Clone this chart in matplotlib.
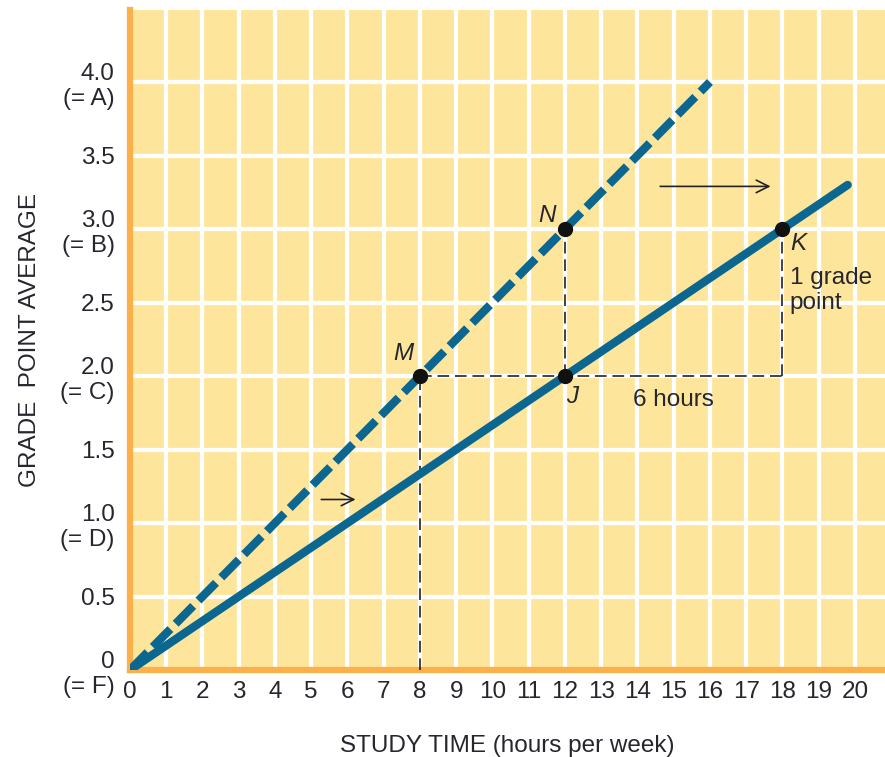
import matplotlib.pyplot as plt

plt.rcParams['font.family'] = ['Liberation Sans', 'DejaVu Sans']

# study time vs grade point average, two students
hours_slow = [0, 19.8]
gpa_slow = [0, 3.3]
hours_fast = [0, 16]
gpa_fast = [0, 4.0]

# labelled points
point_names = ["M", "N", "J", "K"]
point_x = [8, 12, 12, 18]
point_y = [2.0, 3.0, 2.0, 3.0]

x_ticks = list(range(0, 21))
y_ticks = [0, 0.5, 1.0, 1.5, 2.0, 2.5, 3.0, 3.5, 4.0]
y_tick_labels = ["0\n(= F)", "0.5", "1.0\n(= D)", "1.5", "2.0\n(= C)", "2.5",
                 "3.0\n(= B)", "3.5", "4.0\n(= A)"]

BG = "#fde69c"
ORANGE = "#fbb04c"
BLUE = "#0b6690"
TEXT = "#26262e"
FS = 17.5

fig = plt.figure(figsize=(8.85, 7.57), dpi=100)
ax = fig.add_axes([130 / 885, 87 / 757, 755 / 885, 660 / 757])
ax.set_facecolor(BG)
ax.set_xlim(0, 20.83)
ax.set_ylim(0, 4.49)

# white grid
for x in x_ticks[1:]:
    ax.axvline(x, color="white", lw=3, zorder=1)
for y in y_ticks[1:]:
    ax.axhline(y, color="white", lw=3, zorder=1)

for side in ["top", "right"]:
    ax.spines[side].set_visible(False)
for side in ["left", "bottom"]:
    ax.spines[side].set_color(ORANGE)
    ax.spines[side].set_linewidth(4.5)
    ax.spines[side].set_zorder(2)

ax.set_xticks(x_ticks)
ax.set_xticklabels([str(x) for x in x_ticks])
ax.set_yticks(y_ticks)
ax.set_yticklabels(y_tick_labels, ha="right", multialignment="right")
ax.tick_params(length=0, labelsize=FS, labelcolor=TEXT)
ax.tick_params(axis="x", pad=8)
ax.tick_params(axis="y", pad=11)

# thin dashed guides
guide = dict(color="#222222", lw=1.2, ls=(0, (7, 3.5)), zorder=3)
ax.plot([8, 18], [2.0, 2.0], **guide)
ax.plot([8, 8], [0, 2.0], **guide)
ax.plot([12, 12], [2.0, 3.0], **guide)
ax.plot([18, 18], [2.0, 3.0], **guide)

# the two study lines
ax.plot(hours_slow, gpa_slow, color=BLUE, lw=6, solid_capstyle="round", zorder=4)
ax.plot(hours_fast, gpa_fast, color=BLUE, lw=6, ls=(0, (3.0, 0.9)),
        dash_capstyle="butt", zorder=4)

ax.scatter(point_x, point_y, s=100, color="#111111", zorder=5)

offsets = {"M": (-0.45, 0.15), "N": (-0.5, 0.09), "J": (0.2, -0.14), "K": (0.45, -0.1)}
for name, px, py in zip(point_names, point_x, point_y):
    dx, dy = offsets[name]
    ax.text(px + dx, py + dy, name, fontsize=FS, style="italic", color=TEXT,
            ha="center", va="center", zorder=6)

ax.text(18.2, 2.58, "1 grade\npoint", fontsize=FS, color=TEXT, ha="left",
        va="center", linespacing=1.15, zorder=6)
ax.text(15.0, 1.84, "6 hours", fontsize=FS, color=TEXT, ha="center", va="center", zorder=6)

arrow = dict(arrowstyle="->,head_length=0.9,head_width=0.45", color="#222222", lw=1.2)
ax.annotate("", xy=(17.75, 3.29), xytext=(14.55, 3.29), arrowprops=arrow, zorder=6)
ax.annotate("", xy=(6.3, 1.16), xytext=(5.2, 1.16), arrowprops=arrow, zorder=6)

ax.set_xlabel("STUDY TIME (hours per week)", fontsize=FS, color=TEXT, labelpad=23)
ax.set_ylabel("GRADE  POINT AVERAGE", fontsize=FS, color=TEXT, labelpad=14)

fig.savefig("out.png", dpi=100)
